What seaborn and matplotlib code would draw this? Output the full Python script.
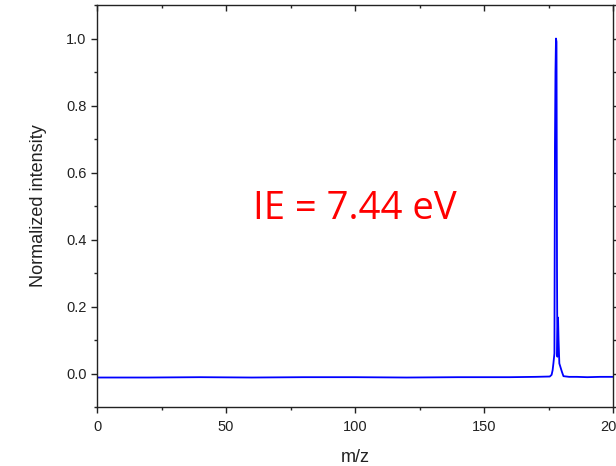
import matplotlib
matplotlib.use("Agg")
import matplotlib.pyplot as plt
from matplotlib.ticker import MultipleLocator, FormatStrFormatter
import seaborn as sns
import pandas as pd

# Photoionization mass spectrum, normalized to the base peak
mz = [0, 20, 40, 60, 80, 100, 120, 140, 160, 170, 175.5, 176.2, 176.6,
      176.9, 177.3, 177.5, 177.7, 177.9, 178.1, 178.3, 178.45, 178.7,
      178.9, 179.2, 179.6, 180.2, 180.8, 183.0, 186.0, 190.0, 195.0, 200.0]
intensity = [-0.012, -0.012, -0.011, -0.012, -0.011, -0.011, -0.012, -0.011,
             -0.011, -0.010, -0.009, -0.004, 0.010,
             0.030, 0.060, 0.680, 0.900, 1.000, 0.990, 0.300, 0.050, 0.167,
             0.100, 0.030, 0.020, 0.005, -0.008, -0.010, -0.010, -0.011, -0.010, -0.010]

ie_label = "IE = 7.44 eV"
x_label = "m/z"
y_label = "Normalized intensity"

df = pd.DataFrame({"mz": mz, "intensity": intensity})

sns.set_style("ticks")
plt.rcParams["font.family"] = ["Liberation Sans", "DejaVu Sans"]

fig = plt.figure(figsize=(6.16, 4.66), dpi=100)
ax = fig.add_axes([97 / 616, 1 - 407 / 466, (613 - 97) / 616, (407 - 5) / 466])

sns.lineplot(data=df, x="mz", y="intensity", ax=ax, color="#0000ff",
             linewidth=1.3, estimator=None)

ax.set_xlim(0, 200)
ax.set_ylim(-0.1, 1.1)
ax.xaxis.set_major_locator(MultipleLocator(50))
ax.xaxis.set_minor_locator(MultipleLocator(25))
ax.yaxis.set_major_locator(MultipleLocator(0.2))
ax.yaxis.set_minor_locator(MultipleLocator(0.1))
ax.yaxis.set_major_formatter(FormatStrFormatter("%.1f"))

for s in ax.spines.values():
    s.set_visible(True)
    s.set_linewidth(1.0)
    s.set_color("#222222")

ax.tick_params(which="major", direction="out", length=4.5, width=1,
               labelsize=10.5, colors="#222222", pad=3)
ax.tick_params(axis="x", which="major", pad=5)
ax.tick_params(which="minor", direction="out", length=2.5, width=1, colors="#222222")
ax.tick_params(which="both", top=True, right=True)
# mirrored ticks on top/right point inward
for t in ax.xaxis.get_ticklines(minor=False)[1::2] + ax.xaxis.get_ticklines(minor=True)[1::2]:
    t.set_marker(3)
for t in ax.yaxis.get_ticklines(minor=False)[1::2] + ax.yaxis.get_ticklines(minor=True)[1::2]:
    t.set_marker(1)

ax.set_xlabel(x_label, fontsize=13, color="#222222", labelpad=11)
ax.set_ylabel(y_label, fontsize=13, color="#222222", labelpad=14)

ax.text(100, 0.49, ie_label, color="#ff0000", fontsize=27.5,
        family=["Open Sans", "DejaVu Sans"], ha="center", va="center")

fig.savefig("out.png", dpi=100)
